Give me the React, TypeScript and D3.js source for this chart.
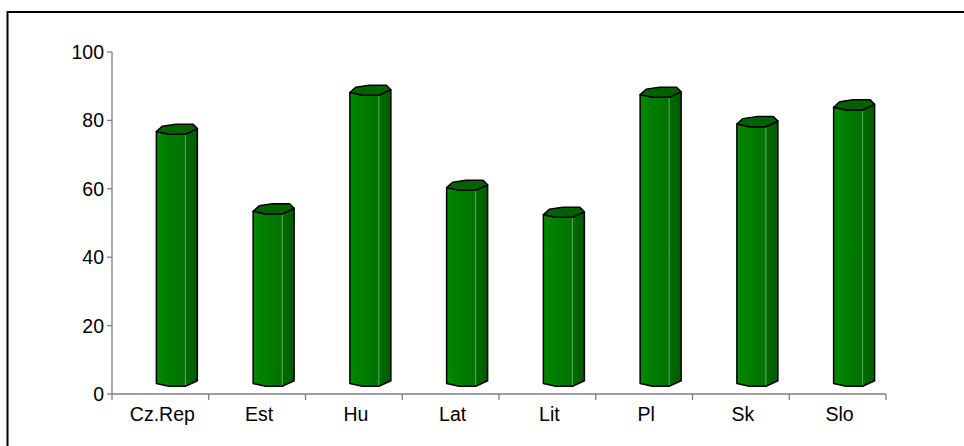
import React from "react";
import * as d3 from "d3";

const categories = ["Cz.Rep", "Est", "Hu", "Lat", "Lit", "Pl", "Sk", "Slo"];
const values = [73.7, 50.4, 85.1, 57.3, 49.4, 84.5, 75.9, 80.8];
const yTicks = [0, 20, 40, 60, 80, 100];

const W = 964;
const H = 446;
const left = 112;
const right = 886;
const bottom = 394;
const top = 52;

// 3D projection offsets (bar placed mid-depth)
const depthDx = 16.5;
const depthDy = -13;

// prism cross-section (projected top view) offsets relative to centre
const shape: [number, number][] = [
  [-20.5, 2.6],
  [-8, 5.3],
  [8.5, 5.3],
  [20.5, -0.3],
  [16, -4.8],
  [-1, -4.8],
  [-14.5, -2.8],
];

export default function App() {
  const y = d3.scaleLinear().domain([0, 100]).range([bottom, top]);
  const x = d3.scaleBand<string>().domain(categories).range([left, right]).padding(0);
  const line = d3.line<[number, number]>();

  return (
    <div style={{ position: "absolute", left: 0, top: 0, width: W, height: H, overflow: "hidden" }}>
      <svg
        width={W}
        height={H}
        style={{ display: "block", background: "#fff" }}
        fontFamily="'Liberation Sans', Arial, sans-serif"
      >
        <defs>
          <linearGradient id="frontGrad" x1="0" x2="1" y1="0" y2="0">
            <stop offset="0" stopColor="#008a00" />
            <stop offset="0.3" stopColor="#008000" />
            <stop offset="1" stopColor="#007200" />
          </linearGradient>
          <linearGradient id="sideGrad" x1="0" x2="1" y1="0" y2="0">
            <stop offset="0" stopColor="#006c00" />
            <stop offset="1" stopColor="#005a00" />
          </linearGradient>
        </defs>

        {/* frame */}
        <path d={`M7.5,${H + 10}V12H${W + 10}`} fill="none" stroke="#000" strokeWidth={2} />

        {/* y axis */}
        <line x1={left} x2={left} y1={y(100)} y2={y(0)} stroke="#7f7f7f" strokeWidth={1.3} />
        {yTicks.map((t) => (
          <g key={t}>
            <line x1={left - 5} x2={left} y1={y(t)} y2={y(t)} stroke="#7f7f7f" strokeWidth={1.3} />
            <text x={left - 8} y={y(t)} dy="0.36em" textAnchor="end" fontSize={19.5} fill="#000">
              {t}
            </text>
          </g>
        ))}

        {/* x axis */}
        <line x1={left} x2={right} y1={y(0)} y2={y(0)} stroke="#7f7f7f" strokeWidth={1.3} />
        {[...categories.map((c) => x(c)!), right].map((p, i) => (
          <line key={i} x1={p} x2={p} y1={y(0)} y2={y(0) + 6} stroke="#7f7f7f" strokeWidth={1.3} />
        ))}
        {categories.map((c) => (
          <text
            key={c}
            x={x(c)! + x.bandwidth() / 2 + 2}
            y={421}
            textAnchor="middle"
            fontSize={19.5}
            fill="#000"
          >
            {c}
          </text>
        ))}

        {/* bars */}
        {categories.map((c, i) => {
          const cx = x(c)! + x.bandwidth() / 2 + depthDx;
          const cyTop = y(values[i]) + depthDy;
          const cyBot = y(0) + depthDy;
          const T = shape.map(([dx, dy]) => [cx + dx, cyTop + dy] as [number, number]);
          const B = shape.map(([dx, dy]) => [cx + dx, cyBot + dy] as [number, number]);
          const front = [T[0], T[1], T[2], B[2], B[1], B[0]];
          const side = [T[2], T[3], B[3], B[2]];
          const outline = [T[0], T[1], T[2], T[3], B[3], B[2], B[1], B[0]];
          return (
            <g key={c}>
              <path d={line(front)! + "Z"} fill="url(#frontGrad)" />
              <path d={line(side)! + "Z"} fill="url(#sideGrad)" />
              <line x1={T[2][0]} x2={B[2][0]} y1={T[2][1]} y2={B[2][1]} stroke="#5aa55a" strokeWidth={1} />
              <path d={line(outline)! + "Z"} fill="none" stroke="#000" strokeWidth={1.5} strokeLinejoin="round" />
              <path d={line(T)! + "Z"} fill="#006300" stroke="#000" strokeWidth={1.5} strokeLinejoin="round" />
            </g>
          );
        })}
      </svg>
    </div>
  );
}
